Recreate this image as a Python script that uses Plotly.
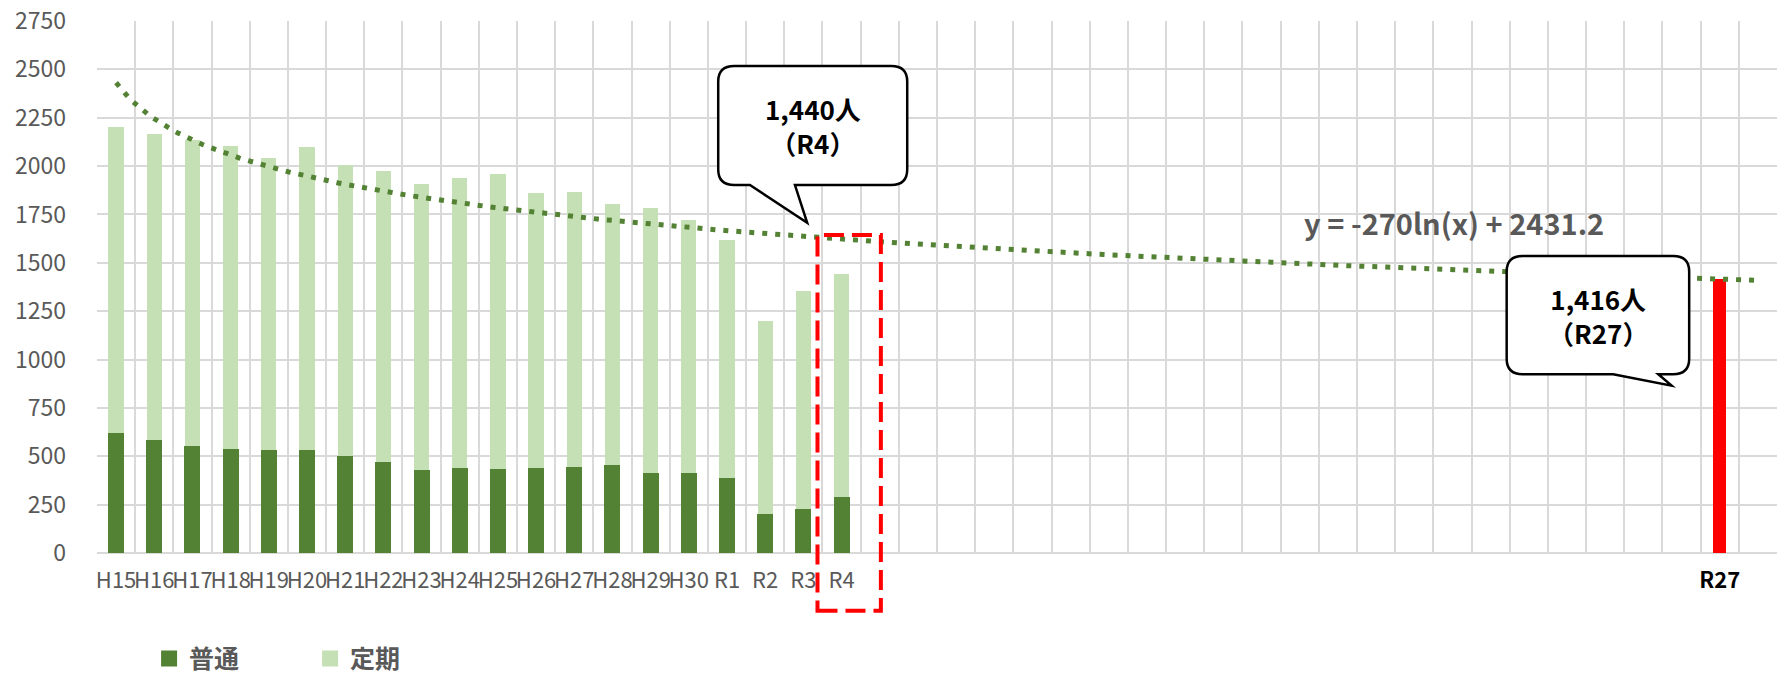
import numpy as np
import plotly.graph_objects as go

# ---------------- data ----------------
heisei = ["H15", "H16", "H17", "H18", "H19", "H20", "H21", "H22", "H23", "H24",
          "H25", "H26", "H27", "H28", "H29", "H30"]
reiwa = ["R" + str(i) for i in range(1, 29)]          # R1 .. R28 (axis runs to R28)
axis_categories = heisei + reiwa                      # 44 slots on the axis
observed_years = heisei + ["R1", "R2", "R3", "R4"]    # years that have bars

futsu = [620, 585, 555, 540, 530, 535, 500, 470, 430, 440, 435, 437, 445, 455,
         415, 413, 390, 200, 225, 290]                # 普通
teiki = [1580, 1580, 1580, 1565, 1510, 1565, 1505, 1505, 1475, 1500, 1525, 1423,
         1420, 1350, 1370, 1307, 1230, 1000, 1130, 1150]  # 定期

forecast_year = "R27"
forecast_value = 1416

TREND_SLOPE = -270.0
TREND_INTERCEPT = 2431.2

y_ticks = [0, 250, 500, 750, 1000, 1250, 1500, 1750, 2000, 2250, 2500, 2750]

# ---------------- styling ----------------
DARK = "#548235"
LIGHT = "#C5E0B4"
GRID = "#D9D9D9"
GRAY = "#595959"
FONT = "Noto Sans CJK JP"

n_slots = len(axis_categories)
x_obs = [axis_categories.index(c) for c in observed_years]
x_fc = axis_categories.index(forecast_year)
x_r4 = axis_categories.index("R4")

fig = go.Figure()

fig.add_trace(go.Bar(x=x_obs, y=futsu, name="普通", marker=dict(color=DARK, line=dict(width=0)),
                     width=0.42, showlegend=False))
fig.add_trace(go.Bar(x=x_obs, y=teiki, name="定期", marker=dict(color=LIGHT, line=dict(width=0)),
                     width=0.40, showlegend=False))
fig.add_trace(go.Bar(x=[x_fc], y=[forecast_value], name=forecast_year, marker=dict(color="#FF0000", line=dict(width=0)),
                     width=0.33, showlegend=False))

# logarithmic trendline shown in the chart (y = -270 ln(x) + 2431.2), x = 1..44
tx = np.linspace(0, n_slots - 1, 400)
ty = TREND_SLOPE * np.log(tx + 1) + TREND_INTERCEPT
fig.add_trace(go.Scatter(x=tx, y=ty, mode="lines", line=dict(color=DARK, width=5, dash="5px,8px"),
                         showlegend=False, hoverinfo="skip"))

# legend entries
fig.add_trace(go.Scatter(x=[None], y=[None], mode="markers", name="普通",
                         marker=dict(symbol="square", size=19, color=DARK)))
fig.add_trace(go.Scatter(x=[None], y=[None], mode="markers", name="定期",
                         marker=dict(symbol="square", size=19, color=LIGHT)))

ticktext = []
for i, c in enumerate(axis_categories):
    if c in observed_years:
        ticktext.append(c)
    elif c == forecast_year:
        ticktext.append("<b><span style='color:#000000'>" + c + "</span></b>")
    else:
        ticktext.append("")


def bubble(x0, x1, ybot, ytop, xa, xb, xt, yt, rx=0.42, ry=80):
    return (f"M {x0+rx},{ytop} L {x1-rx},{ytop} Q {x1},{ytop} {x1},{ytop-ry} "
            f"L {x1},{ybot+ry} Q {x1},{ybot} {x1-rx},{ybot} L {xb},{ybot} L {xt},{yt} "
            f"L {xa},{ybot} L {x0+rx},{ybot} Q {x0},{ybot} {x0},{ybot+ry} "
            f"L {x0},{ytop-ry} Q {x0},{ytop} {x0+rx},{ytop} Z")


shapes = []
# callout for R4
b1 = dict(x0=x_r4 - 3.23, x1=x_r4 + 1.72, ybot=1902, ytop=2517,
          xa=x_r4 - 2.40, xb=x_r4 - 1.22, xt=x_r4 - 0.90, yt=1707)
shapes.append(dict(type="path", xref="x", yref="y", path=bubble(**b1),
                   line=dict(color="#000000", width=2.5), fillcolor="#FFFFFF", layer="above"))
# callout for R27
b2 = dict(x0=x_fc - 5.58, x1=x_fc - 0.80, ybot=924, ytop=1535,
          xa=x_fc - 2.79, xb=x_fc - 1.61, xt=x_fc - 1.26, yt=865)
shapes.append(dict(type="path", xref="x", yref="y", path=bubble(**b2),
                   line=dict(color="#000000", width=2.5), fillcolor="#FFFFFF", layer="above"))


def px_x(x):
    return (x + 0.5) / n_slots


def px_y(y):
    return y / y_ticks[-1]


# red dashed frame around R4
shapes.append(dict(type="rect", xref="paper", yref="paper",
                   x0=px_x(x_r4 - 0.63), x1=px_x(x_r4 + 1.03),
                   y0=px_y(-298), y1=px_y(1644),
                   line=dict(color="#FF0000", width=4, dash="20px,8px"), layer="above"))

annotations = [
    dict(x=(b1["x0"] + b1["x1"]) / 2, y=(b1["ybot"] + b1["ytop"]) / 2, xref="x", yref="y",
         text="1,440人<br>（R4）", showarrow=False,
         font=dict(family=FONT, size=26, color="#000000", weight="bold")),
    dict(x=(b2["x0"] + b2["x1"]) / 2, y=(b2["ybot"] + b2["ytop"]) / 2, xref="x", yref="y",
         text="1,416人<br>（R27）", showarrow=False,
         font=dict(family=FONT, size=26, color="#000000", weight="bold")),
    dict(x=31.06, y=1711, xref="x", yref="y", xanchor="left", yanchor="middle",
         text=f"y = {TREND_SLOPE:g}ln(x) + {TREND_INTERCEPT:g}", showarrow=False,
         font=dict(family=FONT, size=29, color=GRAY, weight="bold")),
]

fig.update_layout(
    width=1781, height=677, autosize=False,
    margin=dict(l=97, r=4, t=21, b=124, pad=0, autoexpand=False),
    plot_bgcolor="#FFFFFF", paper_bgcolor="#FFFFFF",
    barmode="stack",
    font=dict(family=FONT, color=GRAY),
    shapes=shapes, annotations=annotations,
    showlegend=True,
    legend=dict(orientation="h", x=0.031, xanchor="left", y=-0.199, yanchor="middle",
                traceorder="normal",
                font=dict(family=FONT, size=25, color=GRAY, weight="bold"),
                entrywidth=116, entrywidthmode="pixels", itemsizing="trace",
                bgcolor="rgba(0,0,0,0)"),
    xaxis=dict(range=[-0.5, n_slots - 0.5], tickmode="array", tickvals=list(range(n_slots)),
               ticktext=ticktext, tickangle=0, showgrid=False, zeroline=False, showline=False, ticks="",
               tickfont=dict(family=FONT, size=22, color=GRAY), ticklabelstandoff=12,
               minor=dict(tickmode="linear", tick0=-0.5, dtick=1, showgrid=True,
                          gridcolor=GRID, gridwidth=2, ticks="")),
    yaxis=dict(range=[0, y_ticks[-1]], tickmode="array", tickvals=y_ticks,
               showgrid=True, gridcolor=GRID, gridwidth=2, zeroline=True, zerolinecolor=GRID,
               zerolinewidth=2, showline=False, ticks="",
               tickfont=dict(family=FONT, size=23, color=GRAY), ticklabelstandoff=30),
)

fig.write_html("out.html", config={"displayModeBar": False},
               post_script="document.body.style.margin='0px';document.body.style.overflow='hidden';")
